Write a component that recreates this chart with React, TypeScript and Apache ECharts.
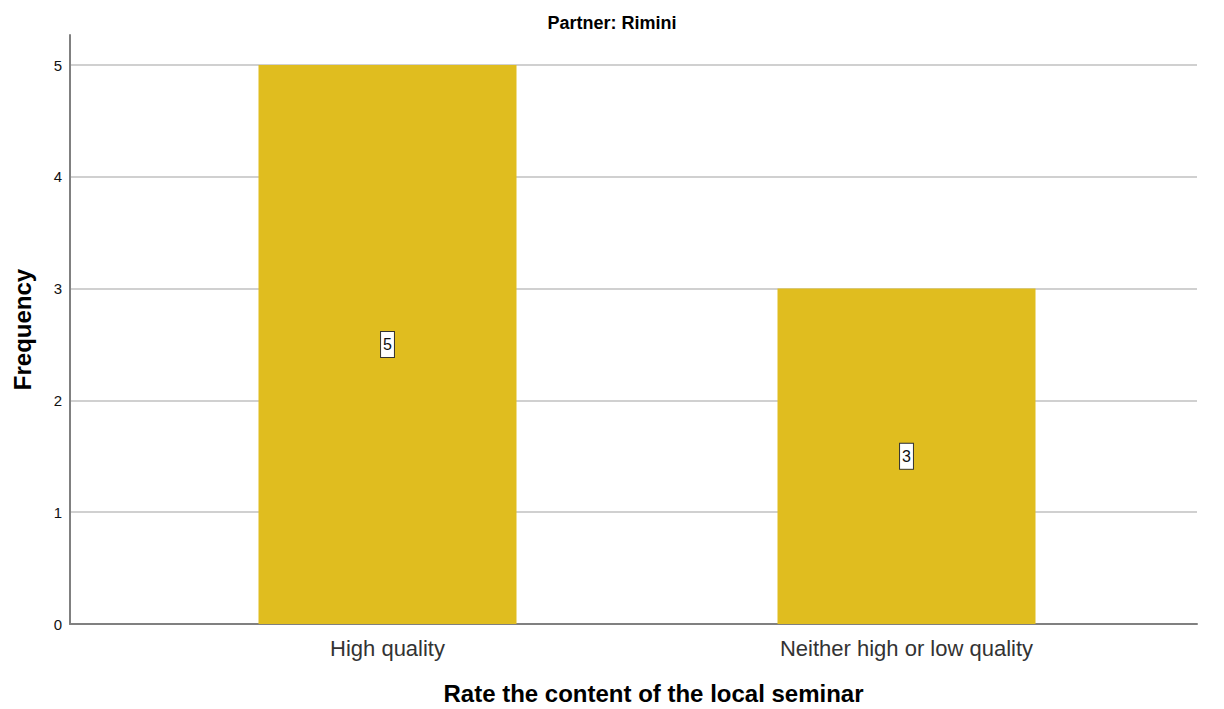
import React, { useEffect, useRef } from "react";
import * as echarts from "echarts";

const title = "Partner: Rimini";
const categories = ["High quality", "Neither high or low quality"];
const frequencies = [5, 3];
const yTicks = [0, 1, 2, 3, 4, 5];
const xTitle = "Rate the content of the local seminar";
const yTitle = "Frequency";

export default function App() {
  const ref = useRef<HTMLDivElement>(null);
  useEffect(() => {
    document.body.style.margin = "0";
    const chart = echarts.init(ref.current!, null, { renderer: "svg" });
    const font = "'Liberation Sans', Arial, sans-serif";
    const yTop = 5.27;
    const yMax = yTicks[yTicks.length - 1];
    chart.setOption({
      animation: false,
      backgroundColor: "#ffffff",
      title: {
        text: title,
        left: "center",
        top: 9,
        textStyle: { fontFamily: font, fontSize: 18, fontWeight: "bold", color: "#000" },
      },
      grid: [
        { left: 70, right: 27, top: 35, bottom: 85, outerBoundsMode: "none" },
        { left: 70, right: 27, top: 65, bottom: 85, outerBoundsMode: "none" },
        { left: 128, right: 58, top: 65, bottom: 85, outerBoundsMode: "none" },
      ],
      xAxis: [
        {
          gridIndex: 0,
          type: "category",
          data: [""],
          axisLine: { show: true, lineStyle: { color: "#808080", width: 2 } },
          axisTick: { show: false },
          axisLabel: { show: false },
          name: xTitle,
          nameLocation: "middle",
          nameGap: 57,
          nameTextStyle: {
            fontFamily: font,
            fontSize: 24,
            fontWeight: "bold",
            color: "#000",
            padding: [0, 0, 0, 40],
          },
        },
        {
          gridIndex: 1,
          type: "category",
          data: [""],
          show: false,
        },
        {
          gridIndex: 2,
          type: "category",
          data: categories,
          axisLine: { show: false },
          axisTick: { show: false },
          axisLabel: { fontFamily: font, fontSize: 22, color: "#333", margin: 13 },
        },
      ],
      yAxis: [
        {
          gridIndex: 0,
          type: "value",
          min: 0,
          max: yTop,
          axisLine: { show: true, lineStyle: { color: "#808080", width: 2 } },
          axisTick: { show: false },
          splitLine: { show: false },
          axisLabel: { show: false },
          name: yTitle,
          nameLocation: "middle",
          nameGap: 36,
          nameRotate: 90,
          nameTextStyle: { fontFamily: font, fontSize: 24, fontWeight: "bold", color: "#000" },
        },
        {
          gridIndex: 1,
          type: "value",
          min: 0,
          max: yMax,
          interval: 1,
          axisLine: { show: false },
          axisTick: { show: false },
          splitLine: { show: true, lineStyle: { color: "#d0d0d0", width: 2 } },
          axisLabel: {
            fontFamily: font,
            fontSize: 15,
            color: "#111",
            margin: 8,
          },
        },
        {
          gridIndex: 2,
          type: "value",
          min: 0,
          max: yMax,
          show: false,
          splitLine: { show: false },
        },
      ],
      series: [
        {
          type: "bar",
          xAxisIndex: 2,
          yAxisIndex: 2,
          data: frequencies,
          barWidth: 258,
          itemStyle: { color: "#e0bd1f" },
          label: {
            show: true,
            position: "inside",
            fontFamily: font,
            fontSize: 16,
            color: "#111",
            backgroundColor: "#ffffff",
            borderColor: "#333",
            borderWidth: 1,
            padding: [5, 2, 4, 2],
          },
        },
      ],
    });
    return () => chart.dispose();
  }, []);
  return <div ref={ref} style={{ width: 1224, height: 709 }} />;
}
